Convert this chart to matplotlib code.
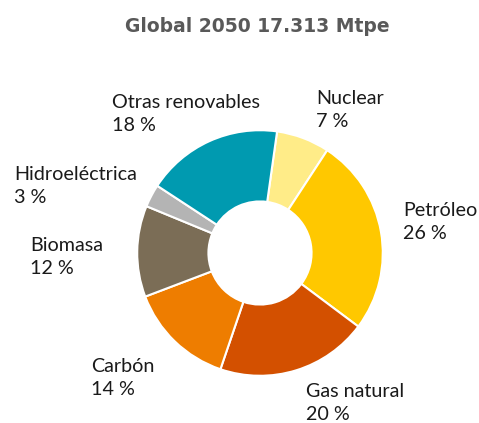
import matplotlib.pyplot as plt

# data (clockwise from the top)
labels = ['Nuclear', 'Petróleo', 'Gas natural', 'Carbón', 'Biomasa',
          'Hidroeléctrica', 'Otras renovables']
shares = [7, 26, 20, 14, 12, 3, 18]
colors = ['#FFEC88', '#FFC800', '#D35000', '#EE7D00', '#7B6D56',
          '#B4B4B4', '#009AB0']

# label anchor (left, first baseline) in pixels from top-left
label_px = [(316, 104), (403, 216), (306, 397), (91, 372), (30, 251),
            (14, 180), (112, 108)]

W, H = 479, 423
fig = plt.figure(figsize=(W / 100, H / 100), dpi=100)

cx, cy, r = 260, 253, 124
ax = fig.add_axes([(cx - r) / W, (H - cy - r) / H, 2 * r / W, 2 * r / H])
ax.pie(shares, colors=colors, startangle=82, counterclock=False, radius=1,
       wedgeprops=dict(width=0.58, edgecolor='white', linewidth=1.5))
ax.set_xlim(-1.01, 1.01)
ax.set_ylim(-1.01, 1.01)
ax.set_aspect('equal')
ax.axis('off')

fig.text(257 / W, 1 - 27 / H, 'Global 2050 17.313 Mtpe', ha='center', va='center',
         fontsize=13.5, fontweight='bold', color='#595959', family='DejaVu Sans')

for name, val, (px, py) in zip(labels, shares, label_px):
    fig.text(px / W, 1 - py / H, name, ha='left', va='baseline',
             fontsize=14.2, color='#1a1a1a', family='Lato')
    fig.text(px / W, 1 - (py + 23) / H, f'{val} %', ha='left', va='baseline',
             fontsize=14.2, color='#1a1a1a', family='Lato')

fig.savefig('out.png', dpi=100)
